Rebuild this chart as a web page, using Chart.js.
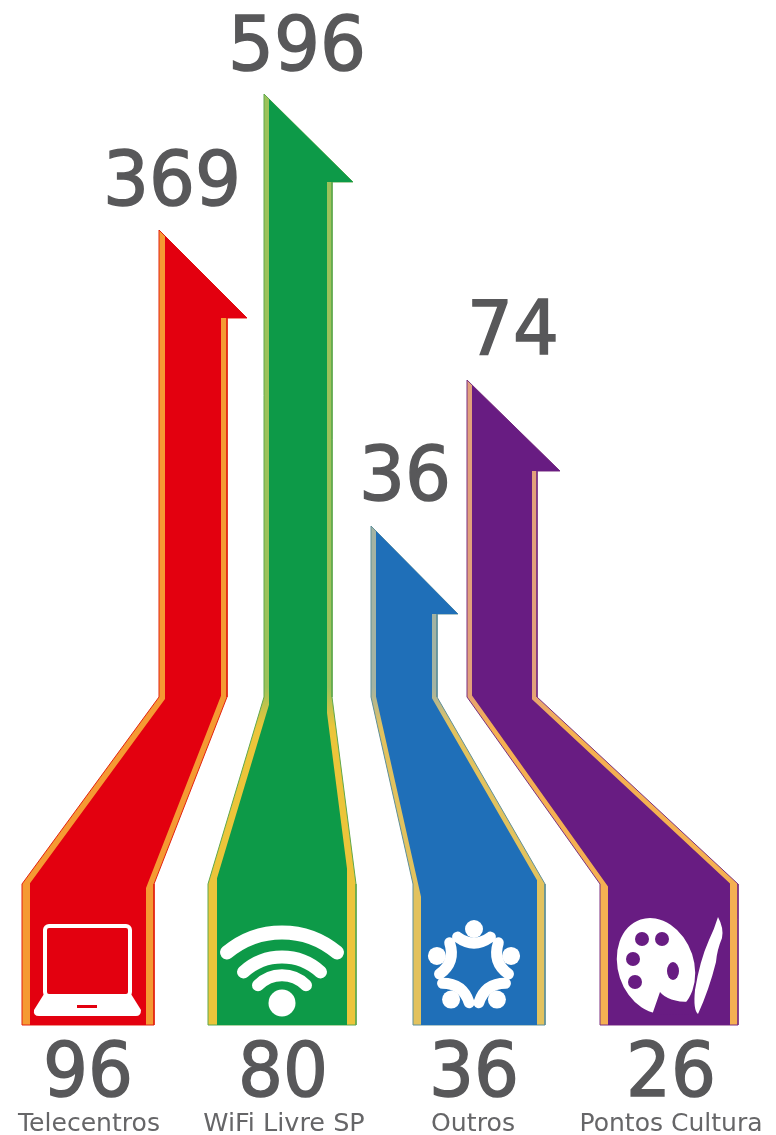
<!DOCTYPE html>
<html>
<head>
<meta charset="utf-8">
<title>Pontos de acesso</title>
<script src="https://cdn.jsdelivr.net/npm/chart.js@4"></script>
<style>
    html, body { margin: 0; padding: 0; background: #fff; }
    #wrap { width: 776px; height: 1135px; }
    canvas { display: block; filter: blur(0.6px); }
</style>
</head>
<body>
<div id="wrap"><canvas id="flow" width="776" height="1135"></canvas></div>
<script>
// values
var categories = ['Telecentros', 'WiFi Livre SP', 'Outros', 'Pontos Cultura'];
var bottomValues = [96, 80, 36, 26];
var topValues = [369, 596, 36, 74];
// how tall each arrow is drawn (not proportional to the values)
var arrowHeights = [795, 931, 499, 645];

// shape layout, in chart units
var baseLeft = [22, 208, 413, 600];
var baseRight = [154, 356, 545, 738];
var shaftLeft = [159, 264, 371, 467];
var shaftRight = [227, 332, 437, 537];
var headRight = [247, 353, 458, 560];
var headDepth = [88, 88, 88, 91];
var shoulderY = 141;
var neckY = 328;
// stripe widths
var bandWidth = [8, 9, 8, 8];
var shaftStripe = [6, 5, 5, 5];
var diagStripe = [6, 7, 5, 5];

var mainColors = ['#e3000f', '#0d9a48', '#1f6fb8', '#681c82'];
var edgeColors = ['#e3200f', '#5fa84c', '#5f8f98', '#7a2f80'];
var stripeTop = ['#f59a33', '#9cc25a', '#a3b3a3', '#e2a07c'];
var stripeBottom = ['#f59a33', '#ecc53a', '#e2c25e', '#f5b052'];

var topLabelX = [172, 297, 405, 513];
var topLabelY = [820, 955, 525, 671];
var bottomLabelX = [88, 283, 474, 671];
var nameX = [89, 284, 473, 671];
var nameWidth = [142, 162, 84, 183];

function outerShape(i) {
    var tip = arrowHeights[i], hy = tip - headDepth[i];
    return [
        {x: shaftLeft[i], y: tip},
        {x: headRight[i], y: hy},
        {x: shaftRight[i], y: hy},
        {x: shaftRight[i], y: neckY},
        {x: baseRight[i], y: shoulderY},
        {x: baseRight[i], y: 0},
        {x: baseLeft[i], y: 0},
        {x: baseLeft[i], y: shoulderY},
        {x: shaftLeft[i], y: neckY},
        {x: shaftLeft[i], y: tip}
    ];
}

// y on the diagonal edge moved inwards by the stripe width, at a given x
// side is 1 for the left edge, -1 for the right one
function diagY(x0, x1, d, side, x) {
    var dx = x1 - x0, dy = neckY - shoulderY;
    var h = d * Math.sqrt(dx * dx + dy * dy) / dy;
    return shoulderY + (x - side * h - x0) * dy / dx;
}

function innerShape(i) {
    var tip = arrowHeights[i], hy = tip - headDepth[i];
    var sl = shaftLeft[i] + shaftStripe[i], sr = shaftRight[i] - shaftStripe[i];
    var bl = baseLeft[i] + bandWidth[i], br = baseRight[i] - bandWidth[i];
    var d = diagStripe[i];
    return [
        {x: sl, y: tip - shaftStripe[i]},
        {x: headRight[i], y: hy},
        {x: sr, y: hy},
        {x: sr, y: diagY(baseRight[i], shaftRight[i], d, -1, sr)},
        {x: br, y: diagY(baseRight[i], shaftRight[i], d, -1, br)},
        {x: br, y: 0},
        {x: bl, y: 0},
        {x: bl, y: diagY(baseLeft[i], shaftLeft[i], d, 1, bl)},
        {x: sl, y: diagY(baseLeft[i], shaftLeft[i], d, 1, sl)},
        {x: sl, y: tip - shaftStripe[i]}
    ];
}

function stripeFill(i) {
    return function (context) {
        var chart = context.chart;
        if (!chart.chartArea) return stripeBottom[i];
        var y = chart.scales.y;
        var g = chart.ctx.createLinearGradient(0, y.getPixelForValue(neckY + 10), 0, y.getPixelForValue(neckY - 30));
        g.addColorStop(0, stripeTop[i]);
        g.addColorStop(1, stripeBottom[i]);
        return g;
    };
}

var datasets = [];
categories.forEach(function (name, i) {
    datasets.push({
        label: name,
        data: innerShape(i),
        showLine: true,
        fill: 'shape',
        tension: 0,
        borderWidth: 0,
        pointRadius: 0,
        backgroundColor: mainColors[i],
        order: 0
    });
    datasets.push({
        label: name + ' edge',
        data: outerShape(i),
        showLine: true,
        fill: 'shape',
        tension: 0,
        borderWidth: 1,
        borderColor: edgeColors[i],
        pointRadius: 0,
        backgroundColor: stripeFill(i),
        order: 1
    });
});

// icons sit on top of the arrows
function drawLaptop(ctx) {
    ctx.strokeStyle = '#fff';
    ctx.fillStyle = '#fff';
    ctx.lineWidth = 4;
    ctx.beginPath();
    ctx.roundRect(45, 926, 85, 70, 4);
    ctx.stroke();
    ctx.beginPath();
    ctx.moveTo(44, 994);
    ctx.lineTo(131, 994);
    ctx.lineTo(141, 1010);
    ctx.quadraticCurveTo(141, 1016, 136, 1016);
    ctx.lineTo(39, 1016);
    ctx.quadraticCurveTo(33, 1016, 34, 1010);
    ctx.closePath();
    ctx.fill();
    ctx.fillStyle = mainColors[0];
    ctx.fillRect(77, 1005, 20, 3);
}

function drawWifi(ctx) {
    ctx.strokeStyle = '#fff';
    ctx.fillStyle = '#fff';
    ctx.lineCap = 'round';
    [[1018, 85.6, 55, 14], [1014, 57, 38.5, 13], [1009, 33.8, 24, 12]].forEach(function (a) {
        var half = Math.asin(a[2] / a[1]);
        ctx.lineWidth = a[3];
        ctx.beginPath();
        ctx.arc(282, a[0], a[1], -Math.PI / 2 - half, -Math.PI / 2 + half);
        ctx.stroke();
    });
    ctx.beginPath();
    ctx.arc(282, 1003, 13.5, 0, Math.PI * 2);
    ctx.fill();
}

function drawPeople(ctx) {
    var cx = 474, cy = 968;
    ctx.fillStyle = '#fff';
    ctx.strokeStyle = '#fff';
    ctx.lineCap = 'round';
    for (var k = 0; k < 5; k++) {
        var a = -Math.PI / 2 + k * Math.PI * 2 / 5;
        var s = Math.PI / 5 - 0.14;
        ctx.lineWidth = 11;
        ctx.beginPath();
        ctx.moveTo(cx + 35 * Math.cos(a - s), cy + 35 * Math.sin(a - s));
        ctx.quadraticCurveTo(cx + 19 * Math.cos(a), cy + 19 * Math.sin(a), cx + 35 * Math.cos(a + s), cy + 35 * Math.sin(a + s));
        ctx.stroke();
        ctx.beginPath();
        ctx.arc(cx + 39 * Math.cos(a), cy + 39 * Math.sin(a), 9, 0, Math.PI * 2);
        ctx.fill();
    }
}

function drawPalette(ctx) {
    ctx.fillStyle = '#fff';
    ctx.beginPath();
    ctx.ellipse(656, 966, 38, 49, -0.32, 0, Math.PI * 2);
    ctx.fill();
    ctx.fillStyle = mainColors[3];
    ctx.beginPath();
    ctx.moveTo(660, 992);
    ctx.quadraticCurveTo(668, 1002, 690, 1002);
    ctx.lineTo(694, 1014);
    ctx.lineTo(652, 1015);
    ctx.closePath();
    ctx.fill();
    [[642, 939, 7, 7], [662, 939, 7, 7], [633, 959, 7, 7], [673, 971, 6, 9], [635, 982, 7, 7]].forEach(function (h) {
        ctx.beginPath();
        ctx.ellipse(h[0], h[1], h[2], h[3], 0, 0, Math.PI * 2);
        ctx.fill();
    });
    // brush
    ctx.fillStyle = '#fff';
    ctx.beginPath();
    ctx.moveTo(718, 917);
    ctx.quadraticCurveTo(724, 928, 722, 938);
    ctx.quadraticCurveTo(717, 950, 716, 962);
    ctx.quadraticCurveTo(709, 990, 698, 1014);
    ctx.quadraticCurveTo(693, 1010, 695, 990);
    ctx.quadraticCurveTo(700, 960, 709, 940);
    ctx.quadraticCurveTo(714, 930, 718, 917);
    ctx.closePath();
    ctx.fill();
}

function bigText(ctx, s, px, py, w) {
    ctx.fillText(s, px, py, w);
    ctx.strokeText(s, px, py, w);
}

var overlay = {
    id: 'overlay',
    afterDatasetsDraw: function (chart) {
        var ctx = chart.ctx, x = chart.scales.x, y = chart.scales.y;
        ctx.save();
        drawLaptop(ctx);
        drawWifi(ctx);
        drawPeople(ctx);
        drawPalette(ctx);
        ctx.restore();

        ctx.save();
        ctx.textAlign = 'center';
        ctx.textBaseline = 'alphabetic';
        ctx.fillStyle = '#58585a';
        ctx.strokeStyle = '#58585a';
        ctx.lineWidth = 1.5;
        ctx.font = '75px "DejaVu Sans"';
        topValues.forEach(function (v, i) {
            var w = String(v).length * 46;
            bigText(ctx, String(v), x.getPixelForValue(topLabelX[i]), y.getPixelForValue(topLabelY[i]), w);
        });
        bottomValues.forEach(function (v, i) {
            bigText(ctx, String(v), x.getPixelForValue(bottomLabelX[i]), y.getPixelForValue(-71), 90);
        });
        ctx.fillStyle = '#666668';
        ctx.font = '25.5px "DejaVu Sans"';
        categories.forEach(function (c, i) {
            ctx.fillText(c, x.getPixelForValue(nameX[i]), y.getPixelForValue(-106), nameWidth[i]);
        });
        ctx.restore();
    }
};

var ctx = document.getElementById('flow').getContext('2d');
var myChart = new Chart(ctx, {
    type: 'scatter',
    data: { datasets: datasets },
    plugins: [overlay],
    options: {
        responsive: false,
        animation: false,
        layout: { padding: 0 },
        scales: {
            x: { type: 'linear', display: false, min: 0, max: 776 },
            y: { type: 'linear', display: false, min: -110, max: 1025 }
        },
        plugins: {
            legend: { display: false },
            tooltip: { enabled: false }
        }
    }
});
</script>
</body>
</html>
